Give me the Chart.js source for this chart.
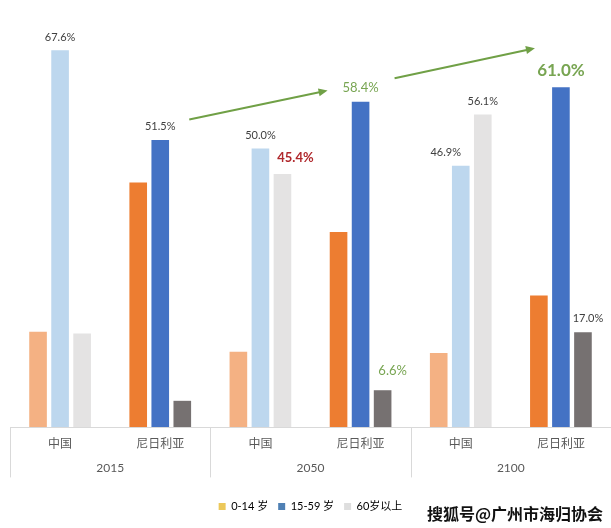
<!DOCTYPE html>
<html>
<head>
<meta charset="utf-8">
<script src="https://cdn.jsdelivr.net/npm/chart.js@4.4.0/dist/chart.umd.min.js"></script>
<style>
  html, body { margin: 0; padding: 0; background: #fff; }
  #wrap { position: relative; width: 611px; height: 528px; }
  #watermark {
    position: absolute; left: 427px; top: 501px;
    font: bold 16px 'Noto Sans CJK SC', sans-serif; color: #111;
    text-shadow: 0 0 2px #fff; white-space: nowrap;
  }
</style>
</head>
<body>
<div id="wrap">
  <canvas id="chart" width="611" height="528"></canvas>
  <div id="watermark">搜狐号@广州市海归协会</div>
</div>
<script>
// ── DATOS ───────────────────────────────────────────
const categories = ['中国', '尼日利亚', '中国', '尼日利亚', '中国', '尼日利亚'];
const years      = ['2015', '2050', '2100'];
const seriesNames = ['0-14 岁', '15-59 岁', '60岁以上'];

const age0to14  = [17.1, 43.9, 13.5, 35.0, 13.3, 23.6];
const age15to59 = [67.6, 51.5, 50.0, 58.4, 46.9, 61.0];
const age60plus = [16.8,  4.7, 45.4,  6.6, 56.1, 17.0];

// colores: [China, Nigeria] por serie
const seriesColors = [
    ['#f4b183', '#ed7d31'],
    ['#bdd7ee', '#4472c4'],
    ['#e4e3e3', '#767171']
];
const legendColors = ['#ecc85a', '#4f80b4', '#dedede'];

// etiquetas de valor: [serie, índice, estilo, dx, gap]
const labelStyles = {
    plain:    { color: '#404040', font: '11px Lato' },
    red:      { color: '#b0282c', font: 'bold 13px Lato' },
    green:    { color: '#78a552', font: '13px Lato' },
    greenBig: { color: '#78a552', font: 'bold 17px Lato' }
};
const valueLabels = [
    [1, 0, 'plain', 0, 9],
    [1, 1, 'plain', 0, 10],
    [1, 2, 'plain', 0, 9],
    [2, 2, 'red', 13, 12.5],
    [1, 3, 'green', 0, 10],
    [2, 3, 'green', 10, 15],
    [1, 4, 'plain', -15, 10],
    [2, 4, 'plain', 0, 9],
    [1, 5, 'greenBig', 0, 11],
    [2, 5, 'plain', 5, 10.5]
];

// flechas verdes: [índice categoría, dx, valor] -> [índice, dx, valor]
const arrows = [
    [[1, 29, 55.2], [3, -33, 60.4]],
    [[3, 34, 62.6], [5, -26, 68.0]]
];

const seriesData = [age0to14, age15to59, age60plus];

// ── PLUGINS ─────────────────────────────────────────
const groupLines = {
    id: 'groupLines',
    afterDraw(chart) {
        const { ctx, chartArea, scales } = chart;
        const x = scales.x, x2 = scales.x2;
        ctx.save();
        ctx.strokeStyle = '#d9d9d9';
        ctx.lineWidth = 1;
        for (let i = 0; i <= categories.length; i += 2) {
            let px;
            if (i === 0) px = chartArea.left;
            else if (i === categories.length) px = chartArea.right - 0.5;
            else px = (x.getPixelForTick(i - 1) + x.getPixelForTick(i)) / 2;
            px = Math.round(px) + 0.5;
            ctx.beginPath();
            ctx.moveTo(px, x.top);
            ctx.lineTo(px, x2.top + 18);
            ctx.stroke();
        }
        ctx.restore();
    }
};

const barLabels = {
    id: 'barLabels',
    afterDatasetsDraw(chart) {
        const { ctx } = chart;
        ctx.save();
        ctx.textAlign = 'center';
        ctx.textBaseline = 'alphabetic';
        valueLabels.forEach(([s, i, style, dx, gap]) => {
            const bar = chart.getDatasetMeta(s).data[i];
            const st = labelStyles[style];
            ctx.fillStyle = st.color;
            ctx.font = st.font;
            ctx.fillText(seriesData[s][i].toFixed(1) + '%', bar.x + dx, bar.y - gap);
        });
        ctx.restore();
    }
};

const trendArrows = {
    id: 'trendArrows',
    afterDatasetsDraw(chart) {
        const { ctx } = chart;
        const y = chart.scales.y;
        const blue = chart.getDatasetMeta(1).data;
        ctx.save();
        ctx.strokeStyle = '#70a046';
        ctx.fillStyle = '#70a046';
        ctx.lineWidth = 2;
        arrows.forEach(([a, b]) => {
            const x1 = blue[a[0]].x + a[1], y1 = y.getPixelForValue(a[2]);
            const x2 = blue[b[0]].x + b[1], y2 = y.getPixelForValue(b[2]);
            const ang = Math.atan2(y2 - y1, x2 - x1);
            ctx.beginPath();
            ctx.moveTo(x1, y1);
            ctx.lineTo(x2 - 6 * Math.cos(ang), y2 - 6 * Math.sin(ang));
            ctx.stroke();
            ctx.beginPath();
            ctx.moveTo(x2, y2);
            ctx.lineTo(x2 - 9 * Math.cos(ang) + 4 * Math.sin(ang), y2 - 9 * Math.sin(ang) - 4 * Math.cos(ang));
            ctx.lineTo(x2 - 9 * Math.cos(ang) - 4 * Math.sin(ang), y2 - 9 * Math.sin(ang) + 4 * Math.cos(ang));
            ctx.closePath();
            ctx.fill();
        });
        ctx.restore();
    }
};

// ── GRÁFICA ─────────────────────────────────────────
new Chart(document.getElementById('chart'), {
    type: 'bar',
    data: {
        labels: categories,
        datasets: seriesData.map((d, s) => ({
            label: seriesNames[s],
            data: d,
            backgroundColor: categories.map((c, i) => seriesColors[s][i % 2]),
            borderWidth: 0,
            categoryPercentage: 0.66,
            barPercentage: 0.8
        }))
    },
    options: {
        responsive: false,
        animation: false,
        layout: { padding: { left: 10, right: 0, top: 37, bottom: 6 } },
        plugins: {
            tooltip: { enabled: false },
            legend: {
                position: 'bottom',
                labels: {
                    boxWidth: 7,
                    boxHeight: 7,
                    padding: 10,
                    color: '#595959',
                    font: { size: 11, family: "Lato, 'Noto Sans CJK SC'" },
                    generateLabels: () => seriesNames.map((n, i) => ({
                        text: n,
                        fillStyle: legendColors[i],
                        strokeStyle: legendColors[i],
                        lineWidth: 0,
                        hidden: false,
                        datasetIndex: i
                    }))
                }
            }
        },
        scales: {
            x: {
                grid: { display: false, drawTicks: false },
                border: { display: true, color: '#d9d9d9' },
                ticks: {
                    padding: 9,
                    color: '#595959',
                    font: { size: 12, family: "'Noto Sans CJK SC', sans-serif" }
                }
            },
            x2: {
                type: 'category',
                labels: years,
                position: 'bottom',
                offset: true,
                grid: { display: false, drawTicks: false },
                border: { display: false },
                ticks: {
                    padding: 1.4,
                    color: '#595959',
                    font: { size: 12, family: "Lato, sans-serif" }
                },
                afterFit: s => { s.height = 31.6; }
            },
            y: {
                display: false,
                min: 0,
                max: 70
            }
        }
    },
    plugins: [groupLines, barLabels, trendArrows]
});
</script>
</body>
</html>
